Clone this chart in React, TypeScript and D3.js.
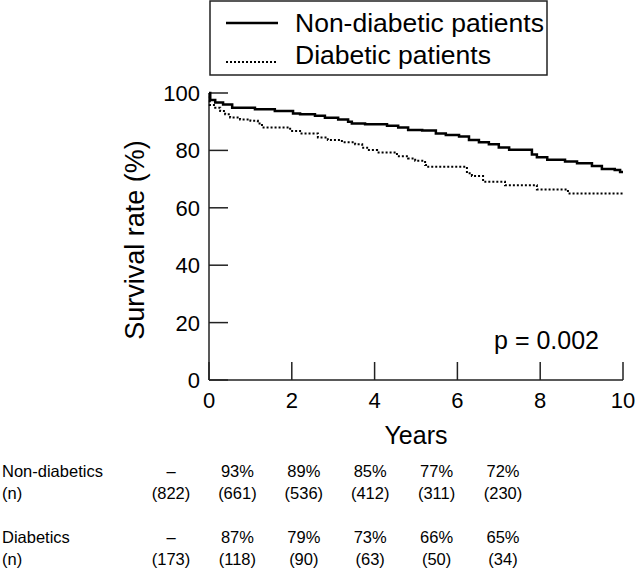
import React from "react";
import * as d3 from "d3";

// Kaplan-Meier step curves (years, survival %)
const nonDiabeticTimes = [0, 0.03, 0.15, 0.34, 0.56, 1.11, 1.59, 2.03, 2.2, 2.56, 2.8, 3.12, 3.36, 3.45, 3.77, 4.3, 4.57, 4.81, 5.15, 5.48, 5.72, 6.04, 6.28, 6.52, 6.76, 7.0, 7.25, 7.8, 7.92, 8.17, 8.6, 8.89, 9.25, 9.49, 9.8, 9.93, 10.0];
const nonDiabeticSurvival = [100, 97.6, 96.7, 96.0, 94.9, 94.3, 93.7, 92.9, 92.6, 92.1, 91.4, 90.8, 90.0, 89.4, 89.1, 88.6, 88.0, 87.1, 86.9, 85.9, 85.4, 84.8, 83.6, 82.8, 82.1, 81.0, 80.2, 78.6, 77.6, 76.7, 76.1, 75.5, 74.6, 73.5, 73.2, 72.5, 72.5];

const diabeticTimes = [0, 0.02, 0.15, 0.27, 0.39, 0.51, 0.75, 1.0, 1.18, 1.28, 1.96, 2.2, 2.63, 2.87, 3.21, 3.53, 3.7, 3.82, 4.06, 4.54, 4.81, 4.98, 5.22, 5.27, 6.23, 6.35, 6.62, 7.15, 7.92, 8.67, 10.0];
const diabeticSurvival = [100, 95.8, 94.9, 93.7, 92.6, 91.5, 90.8, 90.3, 89.4, 88.0, 86.8, 85.9, 84.5, 83.6, 82.8, 82.1, 80.9, 80.1, 79.3, 78.0, 77.2, 76.4, 74.9, 74.3, 72.0, 71.1, 69.1, 67.9, 66.4, 65.0, 65.0];

const xTicks = [0, 2, 4, 6, 8, 10];
const yTicks = [0, 20, 40, 60, 80, 100];

const legendLabels = ["Non-diabetic patients", "Diabetic patients"];

// Table below the chart
const tableYears = [0, 2, 4, 6, 8, 10];
const nonDiabeticPct = ["–", "93%", "89%", "85%", "77%", "72%"];
const nonDiabeticN = ["(822)", "(661)", "(536)", "(412)", "(311)", "(230)"];
const diabeticPct = ["–", "87%", "79%", "73%", "66%", "65%"];
const diabeticN = ["(173)", "(118)", "(90)", "(63)", "(50)", "(34)"];
const rowLabels = ["Non-diabetics", "(n)", "Diabetics", "(n)"];

const FONT = "'Liberation Sans', Arial, Helvetica, sans-serif";

export default function App() {
  const x = d3.scaleLinear().domain([0, 10]).range([209, 623]);
  const y = d3.scaleLinear().domain([0, 100]).range([380, 93]);
  const col = d3.scaleLinear().domain([0, 10]).range([171, 503]);

  const line = d3
    .line<[number, number]>()
    .x((d) => x(d[0]))
    .y((d) => y(d[1]))
    .curve(d3.curveStepAfter);

  const nonDiabetic = nonDiabeticTimes.map((t, i) => [t, nonDiabeticSurvival[i]] as [number, number]);
  const diabetic = diabeticTimes.map((t, i) => [t, diabeticSurvival[i]] as [number, number]);

  const axisColor = "#222";
  const rows = [nonDiabeticPct, nonDiabeticN, diabeticPct, diabeticN];
  const rowY = [477, 499, 543, 565];

  return (
    <svg
      width={640}
      height={573}
      style={{ position: "absolute", left: 0, top: 0, background: "#fff" }}
      fontFamily={FONT}
    >
      {/* Legend */}
      <rect x={210} y={1} width={337} height={74} fill="none" stroke={axisColor} strokeWidth={1.5} />
      <line x1={226} x2={278} y1={23} y2={23} stroke="#000" strokeWidth={2.5} />
      <line x1={226} x2={278} y1={62} y2={62} stroke="#000" strokeWidth={2} strokeDasharray="2 2" />
      <text x={295} y={32} fontSize={26.5} fill="#000">{legendLabels[0]}</text>
      <text x={295} y={64} fontSize={26.5} fill="#000">{legendLabels[1]}</text>

      {/* Axes */}
      <line x1={x(0)} x2={x(0)} y1={y(100)} y2={y(0)} stroke={axisColor} strokeWidth={1.5} />
      <line x1={x(0)} x2={x(10)} y1={y(0)} y2={y(0)} stroke={axisColor} strokeWidth={1.5} />
      {yTicks.map((t) => (
        <g key={"y" + t}>
          <line x1={x(0)} x2={x(0) + 19} y1={y(t)} y2={y(t)} stroke={axisColor} strokeWidth={1.5} />
          <text x={200} y={y(t)} dy="0.36em" textAnchor="end" fontSize={22} fill="#000">
            {t}
          </text>
        </g>
      ))}
      {xTicks.map((t) => (
        <g key={"x" + t}>
          <line x1={x(t)} x2={x(t)} y1={y(0)} y2={y(0) - 18} stroke={axisColor} strokeWidth={1.5} />
          <text x={x(t)} y={408} textAnchor="middle" fontSize={22} fill="#000">
            {t}
          </text>
        </g>
      ))}
      <text x={416} y={444} textAnchor="middle" fontSize={25} fill="#000">Years</text>
      <text
        transform={`translate(144,240) rotate(-90)`}
        textAnchor="middle"
        fontSize={27}
        fill="#000"
      >
        Survival rate (%)
      </text>
      <text x={599} y={349} textAnchor="end" fontSize={25} fill="#000">p = 0.002</text>

      {/* Curves */}
      <path d={line(diabetic) || ""} fill="none" stroke="#000" strokeWidth={2} strokeDasharray="2 2" />
      <path d={line(nonDiabetic) || ""} fill="none" stroke="#000" strokeWidth={2.5} />

      {/* Table */}
      {rowLabels.map((lbl, i) => (
        <text key={"rl" + i} x={2} y={rowY[i]} fontSize={16.5} fill="#000">
          {lbl}
        </text>
      ))}
      {rows.map((row, ri) =>
        row.map((v, ci) => (
          <text
            key={`c${ri}-${ci}`}
            x={col(tableYears[ci])}
            y={rowY[ri]}
            textAnchor="middle"
            fontSize={16.5}
            fill="#000"
          >
            {v}
          </text>
        ))
      )}
    </svg>
  );
}
